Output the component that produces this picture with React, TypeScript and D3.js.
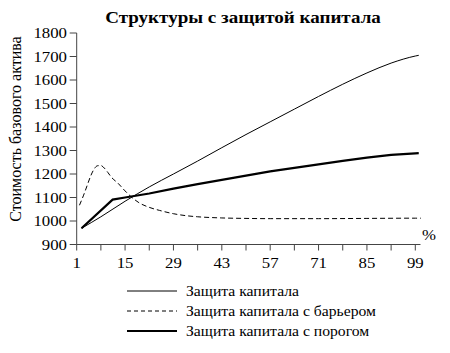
import React from "react";
import * as d3 from "d3";

const title = "Структуры с защитой капитала";
const yLabel = "Стоимость базового актива";
const xUnit = "%";
const seriesNames = ["Защита капитала", "Защита капитала с барьером", "Защита капитала с порогом"];

const xTicks = [1, 8, 15, 22, 29, 36, 43, 50, 57, 64, 71, 78, 85, 92, 99];
const xTickLabels = [1, 15, 29, 43, 57, 71, 85, 99];
const yTicks = [900, 1000, 1100, 1200, 1300, 1400, 1500, 1600, 1700, 1800];

const capitalX = [2.4, 8, 15, 22, 29, 36, 43, 50, 57, 64, 71, 78, 85, 92, 99, 100];
const capitalY = [969, 1018, 1084, 1145, 1200, 1255, 1312, 1368, 1422, 1476, 1530, 1582, 1630, 1672, 1702, 1705];

const barrierX = [1.8, 3, 4, 5, 6, 7, 8, 9, 10, 11, 13, 15, 17, 19, 22, 25, 29, 33, 36, 43, 50, 57, 71, 85, 99, 100.6];
const barrierY = [1067, 1110, 1150, 1190, 1220, 1235, 1236, 1225, 1207, 1187, 1160, 1128, 1100, 1078, 1058, 1045, 1031, 1022, 1018, 1013, 1011, 1010, 1010, 1011, 1012, 1012];

const thresholdX = [2.4, 11.4, 15, 22, 29, 36, 43, 50, 57, 64, 71, 78, 85, 92, 99, 100];
const thresholdY = [969, 1091, 1100, 1117, 1138, 1157, 1175, 1193, 1211, 1226, 1241, 1256, 1270, 1281, 1288, 1289];

const W = 450;
const H = 353;
const FONT = "Liberation Serif, DejaVu Serif, Noto Serif";
const SX = 1.12;

function T(props: {
  x: number;
  y: number;
  size: number;
  anchor?: string;
  bold?: boolean;
  dy?: string;
  children: React.ReactNode;
}) {
  return (
    <text
      transform={`translate(${props.x},${props.y}) scale(${SX},1)`}
      dy={props.dy}
      textAnchor={props.anchor || "start"}
      fontSize={props.size}
      fontWeight={props.bold ? "bold" : "normal"}
      fill="#000"
    >
      {props.children}
    </text>
  );
}

export default function App() {
  const x = d3.scaleLinear().domain([1, 99]).range([76.7, 415.3]);
  const y = d3.scaleLinear().domain([900, 1800]).range([244.5, 33]);

  const smooth = d3
    .line<[number, number]>()
    .x((d) => x(d[0]))
    .y((d) => y(d[1]))
    .curve(d3.curveMonotoneX);
  const straight = d3
    .line<[number, number]>()
    .x((d) => x(d[0]))
    .y((d) => y(d[1]));

  const zip = (a: number[], b: number[]) => a.map((v, i) => [v, b[i]] as [number, number]);

  const series = [
    { name: seriesNames[0], d: smooth(zip(capitalX, capitalY)), w: 1, dash: undefined },
    { name: seriesNames[1], d: smooth(zip(barrierX, barrierY)), w: 1, dash: "5,3" },
    { name: seriesNames[2], d: straight(zip(thresholdX, thresholdY)), w: 2.2, dash: undefined },
  ];

  const axisColor = "#444";
  const x0 = x(1);
  const yBase = y(900);

  return (
    <svg
      width={W}
      height={H}
      style={{ position: "absolute", left: 0, top: 0, background: "#fff" }}
      fontFamily={FONT}
    >
      <T x={243} y={23} size={17} anchor="middle" bold>
        {title}
      </T>

      <line x1={x0} x2={x0} y1={y(1800)} y2={yBase} stroke={axisColor} strokeWidth={1} />
      {yTicks.map((t) => (
        <g key={t}>
          <line x1={x0 - 7} x2={x0} y1={y(t)} y2={y(t)} stroke={axisColor} />
          <T x={67} y={y(t)} dy="0.35em" anchor="end" size={15}>
            {t}
          </T>
        </g>
      ))}

      <line x1={x0} x2={x(100.5)} y1={yBase} y2={yBase} stroke={axisColor} strokeWidth={1} />
      {xTicks.map((t) => (
        <line key={t} x1={x(t)} x2={x(t)} y1={yBase} y2={yBase + 6} stroke={axisColor} />
      ))}
      {xTickLabels.map((t) => (
        <T key={t} x={x(t)} y={268} anchor="middle" size={15}>
          {t}
        </T>
      ))}
      <T x={429} y={240} anchor="middle" size={15}>
        {xUnit}
      </T>

      <text transform={`translate(21,129) rotate(-90)`} textAnchor="middle" fontSize={16} fill="#000">
        {yLabel}
      </text>

      {series.map((s) => (
        <path key={s.name} d={s.d || ""} fill="none" stroke="#000" strokeWidth={s.w} strokeDasharray={s.dash} />
      ))}

      {series.map((s, i) => (
        <g key={"lg" + i}>
          <line
            x1={127}
            x2={177}
            y1={291 + i * 20}
            y2={291 + i * 20}
            stroke="#000"
            strokeWidth={s.w}
            strokeDasharray={s.dash ? "4,3" : undefined}
          />
          <T x={186} y={291 + i * 20} dy="0.35em" size={14}>
            {s.name}
          </T>
        </g>
      ))}
    </svg>
  );
}
